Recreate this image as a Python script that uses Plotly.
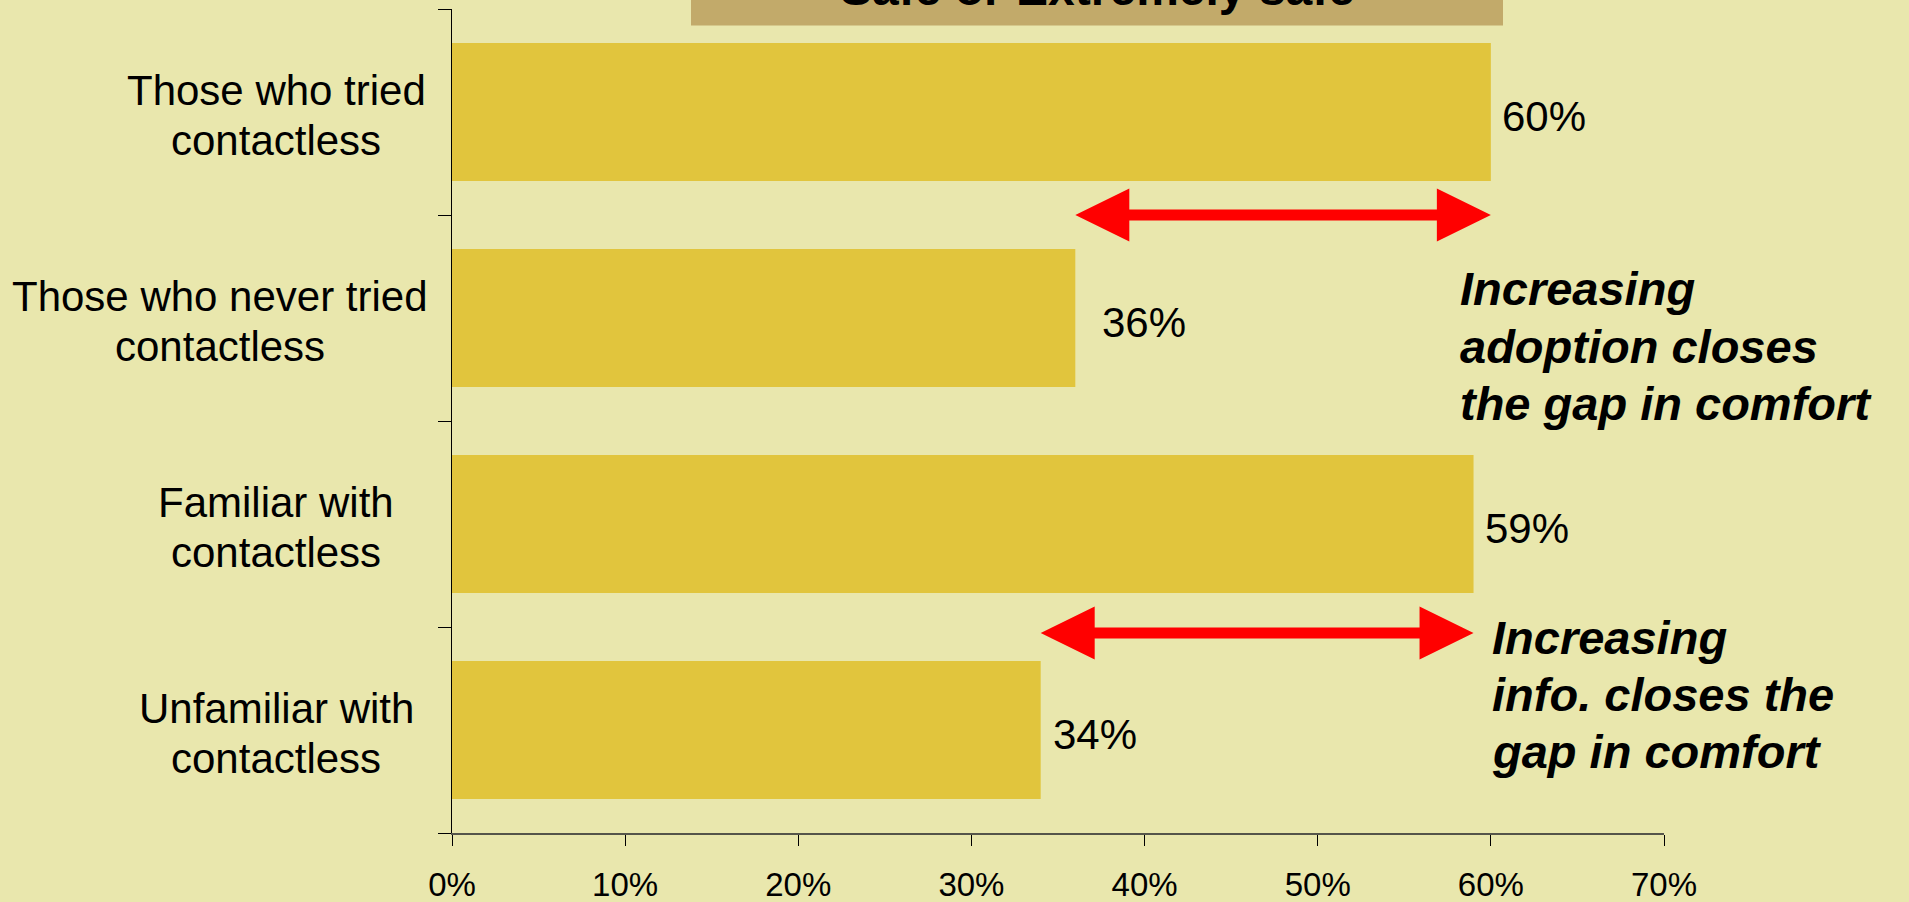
import plotly.graph_objects as go

# Survey: share who feel contactless payment is "Safe or Extremely safe"
categories = [
    "Those who tried<br>contactless",
    "Those who never tried<br>contactless",
    "Familiar with<br>contactless",
    "Unfamiliar with<br>contactless",
]
values = [0.60, 0.36, 0.59, 0.34]
value_labels = ["60%", "36%", "59%", "34%"]
x_ticks = [0, 0.1, 0.2, 0.3, 0.4, 0.5, 0.6, 0.7]

banner_text = "Safe or Extremely safe"
# (index of higher bar, index of lower bar) for each gap arrow, with its caption
gaps = [(0, 1), (2, 3)]
gap_notes = [
    ["Increasing", "adoption closes", "the gap in comfort"],
    ["Increasing", "info. closes the", "gap in comfort"],
]

# ---- page geometry & styling ----
W, H = 1909, 902
ML, MR, MT, MB = 452, 245, 9, 69
PW, PH = W - ML - MR, H - MT - MB
X_MAX = 0.7
N = len(categories)

BG = "#E9E7AD"
BAR = "#E1C53D"
BANNER = "#C2AA6A"
RED = "#FF0000"
FONT = "Liberation Sans, Arial, sans-serif"

kx = X_MAX / PW          # data units per pixel (x)
ky = N / PH              # data units per pixel (y)


def px_x(p):
    return (p - ML) / PW


def px_y(p):
    return (H - MB - p) / PH


positions = list(range(N))

fig = go.Figure()
fig.add_trace(go.Bar(
    x=values, y=positions, orientation="h",
    marker=dict(color=BAR, line=dict(width=0)),
    width=0.67, hoverinfo="skip", showlegend=False,
))

# double-headed gap arrows spanning the two compared values
head_len, head_half, shaft_half = 54 * kx, 26.5 * ky, 5.5 * ky
arrow_dy = [0, -6]
for (hi, lo), dy in zip(gaps, arrow_dy):
    xa, xb = min(values[hi], values[lo]), max(values[hi], values[lo])
    yc = (hi + lo) / 2 - dy * ky
    xs = [xa, xa + head_len, xa + head_len, xb - head_len, xb - head_len, xb,
          xb - head_len, xb - head_len, xa + head_len, xa + head_len, xa]
    ys = [yc, yc - head_half, yc - shaft_half, yc - shaft_half, yc - head_half, yc,
          yc + head_half, yc + shaft_half, yc + shaft_half, yc + head_half, yc]
    fig.add_trace(go.Scatter(
        x=xs, y=ys, mode="lines", fill="toself", fillcolor=RED,
        line=dict(color=RED, width=0), hoverinfo="skip", showlegend=False,
    ))

annotations = []

# category labels: each line centred on the block centre left of the axis
label_centers = [276, 220, 276, 276]
line_step, block_offset = 50, 3.5
for i, (cat, cx) in enumerate(zip(categories, label_centers)):
    lines = cat.split("<br>")
    n = len(lines)
    for j, line in enumerate(lines):
        annotations.append(dict(
            text=line, xref="paper", yref="y", x=px_x(cx), y=i,
            xanchor="center", yanchor="middle",
            yshift=-(block_offset + (j - (n - 1) / 2) * line_step),
            showarrow=False, font=dict(family=FONT, size=42, color="black"),
        ))

# value labels at the end of each bar
label_gaps = [9, 25, 9, 10]
for i, (v, t, g) in enumerate(zip(values, value_labels, label_gaps)):
    annotations.append(dict(
        text=t, xref="x", yref="y", x=v, y=i, xanchor="left", yanchor="middle",
        xshift=g, yshift=-4, showarrow=False,
        font=dict(family=FONT, size=42, color="black"),
    ))

# gap captions
note_left = [1458, 1490]
note_baselines = [[305, 363, 420], [654, 711, 768]]
note_size = 47
for lines, left, bases in zip(gap_notes, note_left, note_baselines):
    for line, b in zip(lines, bases):
        annotations.append(dict(
            text=f"<b><i>{line}</i></b>", xref="paper", yref="paper",
            x=px_x(left), y=px_y(b - 0.35 * note_size),
            xanchor="left", yanchor="middle", showarrow=False,
            font=dict(family=FONT, size=note_size, color="black"),
        ))

# header banner at the top edge
annotations.append(dict(
    text=f"<b>{banner_text}</b>", xref="paper", yref="paper",
    x=px_x(1097), y=px_y(5 - 0.35 * 48), xanchor="center", yanchor="middle",
    showarrow=False, font=dict(family=FONT, size=48, color="black"),
))

shapes = [dict(
    type="rect", xref="paper", yref="paper",
    x0=px_x(691), x1=px_x(1503), y0=px_y(25.5), y1=px_y(-20),
    fillcolor=BANNER, line=dict(width=0), layer="below",
)]

fig.update_layout(
    width=W, height=H,
    margin=dict(l=ML, r=MR, t=MT, b=MB, pad=0, autoexpand=False),
    paper_bgcolor=BG, plot_bgcolor=BG,
    annotations=annotations, shapes=shapes,
    bargap=0.33,
    xaxis=dict(
        range=[0, X_MAX], tickvals=x_ticks, tickformat=".0%",
        showgrid=False, zeroline=False, automargin=False,
        showline=True, linecolor="#55554A", linewidth=2,
        ticks="outside", ticklen=11, tickwidth=1, tickcolor="black",
        ticklabelstandoff=10,
        tickfont=dict(family=FONT, size=33, color="black"),
        fixedrange=True,
    ),
    yaxis=dict(
        range=[N - 0.5, -0.5], tickvals=[p - 0.5 for p in positions] + [N - 0.5],
        showticklabels=False, showgrid=False, zeroline=False, automargin=False,
        showline=True, linecolor="black", linewidth=1,
        ticks="outside", ticklen=13, tickwidth=1, tickcolor="black",
        fixedrange=True,
    ),
)

fig.write_html("out.html", config={"displayModeBar": False})
